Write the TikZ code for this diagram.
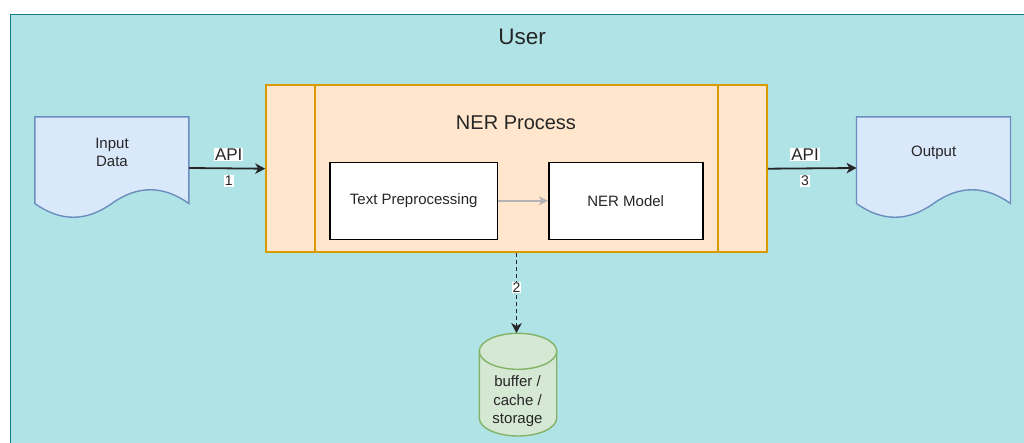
\documentclass[tikz,border=0pt]{standalone}
\usepackage{fontspec}
\setmainfont{Liberation Sans}
\usetikzlibrary{arrows.meta,calc}
\definecolor{userfill}{HTML}{B0E3E6}
\definecolor{userline}{HTML}{0E8088}
\definecolor{procfill}{HTML}{FFE6CC}
\definecolor{procline}{HTML}{D79B00}
\definecolor{docfill}{HTML}{DAE8FC}
\definecolor{docline}{HTML}{6C8EBF}
\definecolor{storefill}{HTML}{D5E8D4}
\definecolor{storeline}{HTML}{82B366}
\definecolor{ink}{HTML}{262626}
\definecolor{softarrow}{HTML}{B3B3B3}
\tikzset{
  fs/.style 2 args={font=\fontsize{#1}{#2}\selectfont},
  txt/.style={text=ink, inner sep=0pt, fs={15}{18.75}, align=center},
  container/.style={draw=userline, fill=userfill, line width=1.6pt, anchor=north west, inner sep=0pt},
  procbox/.style={draw=procline, fill=procfill, line width=1.6pt, minimum width=501pt, minimum height=167pt, inner sep=0pt},
  stagebox/.style={draw=black, fill=white, line width=1.6pt, minimum height=77pt, inner sep=0pt, txt},
  docarea/.style={minimum width=154pt, minimum height=102pt, inner sep=0pt},
  docshape/.style={draw=docline, fill=docfill, line width=1.4pt},
  storearea/.style={minimum width=77.4pt, minimum height=102.7pt, inner sep=0pt},
  storeshape/.style={draw=storeline, fill=storefill, line width=1.4pt},
  flow/.style={draw=ink, line width=1.8pt, -{Stealth[length=10pt,width=10.5pt,inset=3pt]}},
  tag/.style={fill=white, text=ink, inner sep=1pt},
}
% document-like shape with a wavy lower edge, 154 x 102
\newcommand\wavedoc[1]{%
  \begin{scope}[shift={(#1.north west)}]
    \draw[docshape] (0,0) -- (154,0) -- (154,86.7)
      .. controls (128.33,68.37) and (102.67,68.37) .. (77,86.7)
      .. controls (51.33,105.03) and (25.67,105.03) .. (0,86.7) -- cycle;
  \end{scope}}
\begin{document}
\begin{tikzpicture}[x=1pt,y=-1pt]
  \useasboundingbox (0,0) rectangle (1024,442);
  \fill[white] (0,0) rectangle (1024,442);

  % outer swimlane
  \node[container, minimum width=1022pt, minimum height=438pt] (user) at (9.5,13.5) {};
  \node[txt, fs={22.5}{27}] (usertitle) at (522,37) {User};

  % processing block with side bars
  \node[procbox] (ner) at (516.5,168.7) {};
  \draw[procline, line width=1.6pt] ([xshift=50pt]ner.north west) -- ([xshift=50pt]ner.south west);
  \draw[procline, line width=1.6pt] ([xshift=-50pt]ner.north east) -- ([xshift=-50pt]ner.south east);
  \node[txt, fs={20}{24}] (nertitle) at (516,122.7) {NER Process};

  \node[stagebox, minimum width=167.3pt] (prep) at (413.7,200.8) {Text Preprocessing};
  \node[stagebox, minimum width=154pt] (model) at (625.7,200.8) {NER Model};
  \draw[softarrow, line width=1.6pt, -{Stealth[length=9pt,width=9pt,inset=2.5pt]}] (prep.east) -- (model.west);

  % input and output documents
  \node[docarea] (inp) at (112,168) {};
  \wavedoc{inp}
  \node[txt] (inptext) at (112,152.5) {Input\\Data};

  \node[docarea] (out) at (933.7,168) {};
  \wavedoc{out}
  \node[txt] (outtext) at (933.7,152.5) {Output};

  % storage cylinder
  \node[storearea] (buf) at (518,384.65) {};
  \draw[storeshape] (479.3,351.3) -- (479.3,418)
    arc[start angle=180, end angle=360, x radius=38.7pt, y radius=18pt]
    -- (556.7,351.3)
    arc[start angle=0, end angle=180, x radius=38.7pt, y radius=18pt] -- cycle;
  \draw[storeline, line width=1.4pt] (479.3,351.3)
    arc[start angle=180, end angle=360, x radius=38.7pt, y radius=18pt];
  \node[txt, fs={15}{18.5}] (buftext) at (517.5,401.5) {buffer /\\cache /\\storage};

  % connectors
  \draw[flow] (inp.east) -- (ner.west)
    node[tag, fs={17}{20}, pos=0.52, yshift=14pt] (api1) {API}
    node[tag, fs={14}{16}, pos=0.52, yshift=-12.7pt] (n1) {1};
  \draw[flow] (ner.east) -- (out.west)
    node[tag, fs={17}{20}, pos=0.42, yshift=14pt] (api3) {API}
    node[tag, fs={14}{16}, pos=0.42, yshift=-12.7pt] (n3) {3};
  \draw[flow, dash pattern=on 4pt off 3pt] (ner.south) -- (ner.south |- buf.north)
    node[tag, fs={14}{16}, pos=0.43] (n2) {2};
\end{tikzpicture}
\end{document}
